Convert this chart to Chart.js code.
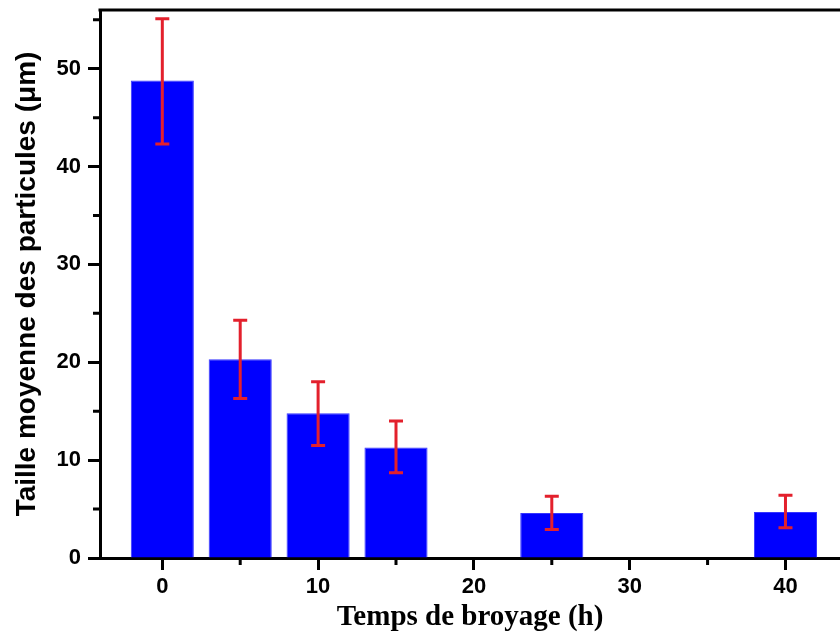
<!DOCTYPE html>
<html>
<head>
<meta charset="utf-8">
<script src="https://cdn.jsdelivr.net/npm/chart.js@4/dist/chart.umd.min.js"></script>
<style>
  body { margin: 0; background: #fff; }
</style>
</head>
<body>
<canvas id="chart" width="840" height="635"></canvas>
<script>
// temps de broyage (h) et taille moyenne (µm)
const times = [0, 5, 10, 15, 25, 40];
const sizes = [48.8, 20.3, 14.8, 11.3, 4.6, 4.7];
const errHigh = [55.1, 24.3, 18.0, 14.0, 6.3, 6.4];
const errLow = [42.3, 16.3, 11.5, 8.7, 2.9, 3.1];

const xMajor = [0, 10, 20, 30, 40];
const xMinor = [5, 15, 25, 35];
const yMajor = [0, 10, 20, 30, 40, 50];
const yMinor = [5, 15, 25, 35, 45, 55];

// barres d'erreur + ticks mineurs + cadre du haut
const extras = {
    id: 'extras',
    afterDatasetsDraw(chart) {
        const ctx = chart.ctx;
        const xs = chart.scales.x, ys = chart.scales.y;
        ctx.save();
        ctx.strokeStyle = '#e3202c';
        ctx.lineWidth = 3;
        times.forEach((t, i) => {
            const x = xs.getPixelForValue(t);
            const y1 = ys.getPixelForValue(errHigh[i]);
            const y2 = ys.getPixelForValue(errLow[i]);
            ctx.beginPath();
            ctx.moveTo(x, y1); ctx.lineTo(x, y2);
            ctx.moveTo(x - 7, y1); ctx.lineTo(x + 7, y1);
            ctx.moveTo(x - 7, y2); ctx.lineTo(x + 7, y2);
            ctx.stroke();
        });
        ctx.restore();
    },
    afterDraw(chart) {
        const ctx = chart.ctx;
        const xs = chart.scales.x, ys = chart.scales.y;
        const area = chart.chartArea;
        ctx.save();
        ctx.strokeStyle = '#000';
        ctx.lineWidth = 3;
        ctx.beginPath();
        xMinor.forEach(v => {
            const x = xs.getPixelForValue(v);
            ctx.moveTo(x, area.bottom); ctx.lineTo(x, area.bottom + 7);
        });
        yMinor.forEach(v => {
            const y = ys.getPixelForValue(v);
            ctx.moveTo(area.left, y); ctx.lineTo(area.left - 7, y);
        });
        ctx.moveTo(area.left - 1.5, area.top); ctx.lineTo(area.right, area.top);
        ctx.stroke();
        ctx.restore();
    }
};

new Chart(document.getElementById('chart'), {
    type: 'bar',
    data: {
        datasets: [{
            data: times.map((t, i) => ({ x: t, y: sizes[i] })),
            backgroundColor: '#0000ff',
            borderColor: '#3535ff',
            borderWidth: 1,
            barPercentage: 0.9,
            categoryPercentage: 0.9
        }]
    },
    options: {
        responsive: false,
        animation: false,
        layout: { padding: { top: 10, right: 0, left: 0, bottom: 0 } },
        plugins: {
            legend: { display: false },
            tooltip: { enabled: false }
        },
        scales: {
            x: {
                type: 'linear',
                offset: false,
                min: -4,
                max: 43.5,
                afterBuildTicks: s => { s.ticks = xMajor.map(v => ({ value: v })); },
                afterFit: s => { s.height = 77; },
                grid: { offset: false, drawOnChartArea: false, tickLength: 12, tickWidth: 3, tickColor: '#000' },
                border: { color: '#000', width: 3 },
                ticks: {
                    color: '#000',
                    padding: 4,
                    font: { family: 'Liberation Sans', weight: 'bold', size: 22 }
                },
                title: {
                    display: true,
                    text: 'Temps de broyage (h)',
                    color: '#000',
                    padding: { top: 0, bottom: 0 },
                    font: { family: 'Liberation Serif', weight: 'bold', size: 29 }
                }
            },
            y: {
                min: 0,
                max: 56,
                afterBuildTicks: s => { s.ticks = yMajor.map(v => ({ value: v })); },
                afterFit: s => { s.width = 100; s.paddingTop = 0; s.paddingBottom = 0; },
                grid: { drawOnChartArea: false, tickLength: 12, tickWidth: 3, tickColor: '#000' },
                border: { color: '#000', width: 3 },
                ticks: {
                    color: '#000',
                    padding: 7,
                    font: { family: 'Liberation Sans', weight: 'bold', size: 22 }
                },
                title: {
                    display: true,
                    text: 'Taille moyenne des particules (μm)',
                    color: '#000',
                    padding: { top: 10, bottom: 0 },
                    font: { family: 'Liberation Sans', weight: 'bold', size: 28 }
                }
            }
        }
    },
    plugins: [extras]
});
</script>
</body>
</html>
